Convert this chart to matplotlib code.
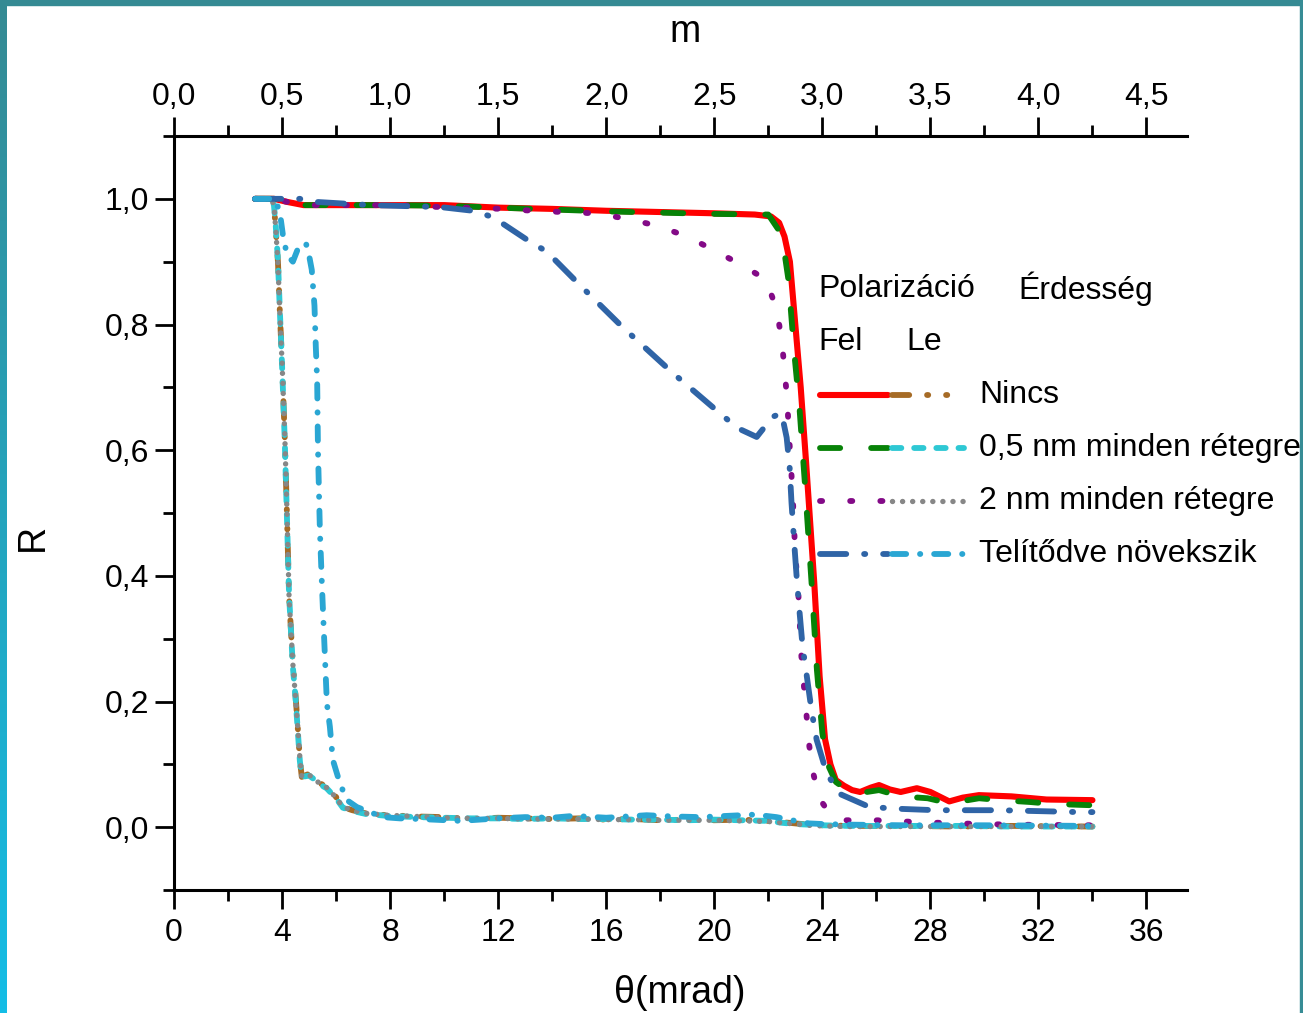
import matplotlib
matplotlib.use("Agg")
from matplotlib import pyplot as plt
from matplotlib.ticker import MultipleLocator, FuncFormatter
from matplotlib.patches import Rectangle
import numpy as np

plt.rcParams['font.family'] = ['Liberation Sans', 'DejaVu Sans']

# --- data (theta in mrad, R) ---
th_nincs_fel = [3.0, 3.7, 4.2, 4.8, 6.0, 8.0, 10.0, 12.0, 14.0, 16.0, 18.0, 20.0, 21.5, 22.1, 22.4, 22.6, 22.8, 23.0,
                23.2, 23.4, 23.7, 23.9, 24.1, 24.3, 24.5, 24.8, 25.1, 25.4, 25.8, 26.1, 26.5, 26.9, 27.5, 28.0, 28.7,
                29.2, 29.8, 31.0, 32.3, 34.0]
r_nincs_fel = [1.0, 1.0, 0.995, 0.99, 0.99, 0.99, 0.99, 0.986, 0.984, 0.981, 0.979, 0.977, 0.975, 0.972, 0.962, 0.94,
               0.90, 0.80, 0.70, 0.58, 0.39, 0.24, 0.14, 0.10, 0.075, 0.066, 0.059, 0.056, 0.063, 0.067, 0.06, 0.056,
               0.062, 0.056, 0.041, 0.047, 0.051, 0.049, 0.044, 0.043]

th_nincs_le = [3.0, 3.6, 3.7, 3.77, 3.85, 3.92, 4.0, 4.1, 4.18, 4.26, 4.4, 4.5, 4.58, 4.66, 4.73, 5.0, 5.2, 5.4, 5.65,
               6.0, 6.25, 6.6, 7.1, 7.9, 9.0, 10.0, 11.0, 12.0, 13.0, 14.0, 15.0, 16.0, 17.0, 18.0, 19.0, 20.0, 21.0,
               22.0, 22.5, 23.0, 23.5, 24.0, 25.0, 27.0, 29.0, 31.0, 34.0]
r_nincs_le = [1.0, 1.0, 0.99, 0.95, 0.898, 0.818, 0.739, 0.62, 0.50, 0.366, 0.26, 0.21, 0.16, 0.107, 0.08, 0.085,
              0.078, 0.07, 0.064, 0.048, 0.032, 0.027, 0.022, 0.019, 0.017, 0.016, 0.013, 0.015, 0.014, 0.013, 0.014,
              0.012, 0.013, 0.011, 0.012, 0.011, 0.012, 0.010, 0.008, 0.006, 0.004, 0.003, 0.002, 0.002, 0.001,
              0.002, 0.001]

th_05_fel = [3.0, 3.7, 4.2, 4.8, 6.0, 8.0, 10.0, 12.0, 14.0, 16.0, 18.0, 20.0, 22.0, 22.5, 22.75, 22.95, 23.15, 23.35,
             23.6, 23.8, 24.0, 24.2, 24.5, 25.0, 25.5, 26.1, 26.9, 27.9, 28.7, 29.8, 30.6, 31.7, 32.5, 33.9]
r_05_fel = [1.0, 1.0, 0.995, 0.99, 0.99, 0.99, 0.989, 0.986, 0.983, 0.98, 0.978, 0.976, 0.975, 0.943, 0.87, 0.76,
            0.67, 0.55, 0.39, 0.25, 0.15, 0.10, 0.072, 0.056, 0.055, 0.059, 0.049, 0.046, 0.038, 0.046, 0.043, 0.040,
            0.037, 0.035]

th_05_le = [3.0, 3.6, 3.7, 3.77, 3.85, 3.92, 4.0, 4.1, 4.18, 4.26, 4.4, 4.5, 4.58, 4.66, 4.73, 5.0, 5.2, 5.4, 5.65,
            6.0, 6.25, 6.6, 7.1, 7.9, 9.0, 10.0, 11.0, 12.0, 13.0, 14.0, 15.0, 16.0, 17.0, 18.0, 19.0, 20.0, 21.0,
            22.0, 22.5, 23.0, 23.5, 24.0, 25.0, 27.0, 29.0, 31.0, 34.0]
r_05_le = [1.0, 1.0, 0.99, 0.955, 0.90, 0.82, 0.735, 0.615, 0.495, 0.37, 0.255, 0.205, 0.155, 0.105, 0.08, 0.082,
           0.076, 0.068, 0.062, 0.046, 0.031, 0.026, 0.021, 0.018, 0.016, 0.015, 0.014, 0.014, 0.013, 0.014, 0.013,
           0.013, 0.012, 0.012, 0.011, 0.012, 0.011, 0.010, 0.007, 0.005, 0.004, 0.003, 0.002, 0.002, 0.002,
           0.001, 0.001]

th_2_fel = [3.0, 3.7, 4.2, 4.8, 6.0, 8.0, 9.84, 12.2, 13.3, 14.4, 15.6, 16.8, 17.9, 19.0, 19.95, 21.0, 21.9, 22.3,
            22.5, 22.6, 22.7, 22.76, 22.9, 23.0, 23.1, 23.16, 23.2, 23.3, 23.4, 23.5, 23.65, 23.9, 24.3, 24.9, 26.0,
            27.6, 29.0, 31.0, 34.0]
r_2_fel = [1.0, 1.0, 0.995, 0.99, 0.99, 0.99, 0.987, 0.984, 0.981, 0.979, 0.977, 0.968, 0.957, 0.94, 0.919, 0.895,
           0.872, 0.826, 0.775, 0.728, 0.68, 0.629, 0.532, 0.433, 0.382, 0.333, 0.285, 0.234, 0.186, 0.135, 0.088,
           0.045, 0.02, 0.011, 0.011, 0.008, 0.006, 0.004, 0.003]

th_2_le = [3.0, 3.6, 3.7, 3.77, 3.85, 3.92, 4.0, 4.1, 4.18, 4.26, 4.4, 4.5, 4.58, 4.66, 4.73, 5.0, 5.2, 5.4, 5.65,
           6.0, 6.25, 6.6, 7.1, 7.9, 9.0, 10.0, 11.0, 12.0, 13.0, 14.0, 15.0, 16.0, 17.0, 18.0, 19.0, 20.0, 21.0,
           22.0, 22.5, 23.0, 23.5, 24.0, 25.0, 27.0, 29.0, 31.0, 34.0]
r_2_le = [1.0, 1.0, 0.99, 0.95, 0.895, 0.815, 0.74, 0.625, 0.505, 0.365, 0.26, 0.205, 0.16, 0.11, 0.08, 0.083,
          0.077, 0.069, 0.063, 0.047, 0.032, 0.027, 0.022, 0.019, 0.017, 0.015, 0.014, 0.014, 0.013, 0.013, 0.013,
          0.012, 0.012, 0.011, 0.011, 0.011, 0.010, 0.009, 0.007, 0.005, 0.003, 0.002, 0.001, 0.001, 0.001,
          0.001, 0.001]

th_tel_fel = [3.0, 3.8, 4.66, 5.3, 7.25, 9.84, 11.06, 11.8, 13.17, 13.8, 14.95, 16.6, 18.46, 20.2, 20.87, 21.57,
              22.16, 22.49, 22.68, 22.79, 22.86, 22.97, 23.05, 23.16, 23.27, 23.42, 23.6, 23.79, 24.16, 24.64, 25.75,
              26.97, 28.2, 30.56, 33.5, 34.0]
r_tel_fel = [1.0, 1.0, 1.0, 0.995, 0.99, 0.987, 0.981, 0.971, 0.932, 0.916, 0.866, 0.796, 0.723, 0.659, 0.635, 0.621,
             0.653, 0.659, 0.62, 0.573, 0.516, 0.446, 0.398, 0.341, 0.287, 0.242, 0.186, 0.139, 0.086, 0.053, 0.032,
             0.029, 0.027, 0.027, 0.024, 0.024]

th_tel_le = [3.0, 3.74, 3.92, 4.03, 4.18, 4.4, 4.6, 4.88, 5.0, 5.1, 5.2, 5.25, 5.3, 5.33, 5.4, 5.47, 5.5, 5.66, 5.77,
             5.88, 6.14, 6.4, 6.77, 7.73, 8.36, 9.1, 10.6, 12.0, 13.0, 14.0, 14.8, 16.0, 17.5, 18.5, 19.5, 20.5, 21.5,
             22.3, 23.0, 23.5, 24.0, 25.0, 27.0, 30.0, 34.0]
r_tel_le = [1.0, 1.0, 0.978, 0.943, 0.911, 0.90, 0.922, 0.93, 0.91, 0.887, 0.83, 0.764, 0.71, 0.60, 0.473, 0.393,
            0.36, 0.197, 0.16, 0.107, 0.07, 0.043, 0.032, 0.016, 0.014, 0.013, 0.010, 0.014, 0.016, 0.015, 0.018,
            0.015, 0.019, 0.017, 0.016, 0.018, 0.020, 0.016, 0.010, 0.006, 0.005, 0.004, 0.003, 0.003, 0.002]

row_labels = ['Nincs', '0,5 nm minden rétegre', '2 nm minden rétegre', 'Telítődve növekszik']

# styles: (colour, linestyle, linewidth)
st_nincs_fel = ('#ff0000', '-', 4.4)
st_nincs_le = ('#a66b26', (0, (2.95, 3.06, 0.2, 3.06, 0.2, 3.06)), 4.2)
st_05_fel = ('#078207', (0, (3.46, 5.3)), 4.2)
st_05_le = ('#2ec8d4', (0, (1.6, 2.2)), 4.2)
st_2_fel = ('#830a87', (0, (0.37, 4.8)), 4.2)
st_2_le = ('#878787', (0, (0.01, 1.85)), 3.9)
st_tel_fel = ('#2f64a6', (0, (4.5, 3.06, 0.2, 3.06)), 4.2)
st_tel_le = ('#2aa6d3', (0, (2.43, 2.37, 0.05, 2.37)), 4.2)

W, H = 1303, 1013
fig = plt.figure(figsize=(W / 100, H / 100), dpi=100)
fig.patch.set_facecolor('white')

# frame strips
fig.add_artist(Rectangle((0, 1 - 5 / H), 1, 5 / H, transform=fig.transFigure, color='#358a93', zorder=0))
fig.add_artist(Rectangle((1 - 3 / W, 0), 3 / W, 1, transform=fig.transFigure, color='#378c95', zorder=0))
gax = fig.add_axes([0, 0, 7 / W, 1])
grad = np.linspace(0, 1, 256).reshape(-1, 1)
c0 = np.array([0x35, 0x8a, 0x93]) / 255
c1 = np.array([0x14, 0xbd, 0xe6]) / 255
gimg = (c0[None, None, :] * (1 - grad[:, :, None]) + c1[None, None, :] * grad[:, :, None])
gax.imshow(gimg, aspect='auto', origin='upper')
gax.axis('off')

ax = fig.add_axes([174 / W, 1 - 890 / H, (1187 - 174) / W, (890 - 136) / H])


def draw(th, r, st, zo):
    c, ls, lw = st
    ax.plot(th, r, color=c, linestyle=ls, linewidth=lw, solid_capstyle='round',
            dash_capstyle='round', solid_joinstyle='round', zorder=zo)


draw(th_nincs_fel, r_nincs_fel, st_nincs_fel, 2)
draw(th_nincs_le, r_nincs_le, st_nincs_le, 2)
draw(th_05_fel, r_05_fel, st_05_fel, 3)
draw(th_05_le, r_05_le, st_05_le, 3)
draw(th_2_fel, r_2_fel, st_2_fel, 4)
draw(th_2_le, r_2_le, st_2_le, 4)
draw(th_tel_fel, r_tel_fel, st_tel_fel, 5)
draw(th_tel_le, r_tel_le, st_tel_le, 5)

ax.set_xlim(0, 37.5)
ax.set_ylim(-0.1, 1.1)

comma = FuncFormatter(lambda v, p: ('%.1f' % v).replace('.', ','))
ax.xaxis.set_major_locator(MultipleLocator(4))
ax.xaxis.set_minor_locator(MultipleLocator(2))
ax.xaxis.set_major_formatter(FuncFormatter(lambda v, p: '%d' % round(v)))
ax.yaxis.set_major_locator(MultipleLocator(0.2))
ax.yaxis.set_minor_locator(MultipleLocator(0.1))
ax.yaxis.set_major_formatter(comma)

for s in ['top', 'right']:
    ax.spines[s].set_visible(False)
for s in ['left', 'bottom']:
    ax.spines[s].set_linewidth(2.2)
ax.tick_params(which='major', direction='out', length=14, width=2.0, labelsize=23, pad=4)
ax.tick_params(which='minor', direction='out', length=8, width=2.0)
ax.tick_params(axis='x', which='major', pad=6)

sec = ax.secondary_xaxis('top', functions=(lambda x: x / 8.0, lambda m: m * 8.0))
sec.xaxis.set_major_locator(MultipleLocator(0.5))
sec.xaxis.set_minor_locator(MultipleLocator(0.25))
sec.xaxis.set_major_formatter(comma)
sec.spines['top'].set_linewidth(2.2)
sec.tick_params(which='major', direction='out', length=14, width=2.0, labelsize=23, pad=3)
sec.tick_params(which='minor', direction='out', length=8, width=2.0)

fig.text(680 / W, 1 - 993 / H, 'θ(mrad)', fontsize=27, ha='center', va='center')
fig.text(685 / W, 1 - 32 / H, 'm', fontsize=27, ha='center', va='center')
fig.text(33 / W, 1 - 537 / H, 'R', fontsize=27, ha='center', va='center', rotation=90)

# custom legend table
def ax_x(px):
    return (px - 174) / (1187 - 174)


def ax_y(py):
    return (890 - py) / (890 - 136)


tkw = dict(transform=ax.transAxes, fontsize=23, va='center', ha='left', clip_on=False)
ax.text(ax_x(818), ax_y(289), 'Polarizáció', **tkw)
ax.text(ax_x(1018), ax_y(289), 'Érdesség', **tkw)
ax.text(ax_x(818), ax_y(342), 'Fel', **tkw)
ax.text(ax_x(906), ax_y(342), 'Le', **tkw)

rows_y = [395, 448, 501, 554]
pairs = [(st_nincs_fel, st_nincs_le), (st_05_fel, st_05_le), (st_2_fel, st_2_le), (st_tel_fel, st_tel_le)]
for yy, (sf, sl), lab in zip(rows_y, pairs, row_labels):
    for (c, ls, lw), x0, x1 in [(sf, 820, 888), (sl, 892, 964)]:
        ax.plot([ax_x(x0), ax_x(x1)], [ax_y(yy), ax_y(yy)], color=c, linestyle=ls, linewidth=lw,
                transform=ax.transAxes, clip_on=False, solid_capstyle='round', dash_capstyle='round')
    ax.text(ax_x(979), ax_y(yy), lab, **tkw)

fig.savefig('out.png', dpi=100, facecolor='white')
